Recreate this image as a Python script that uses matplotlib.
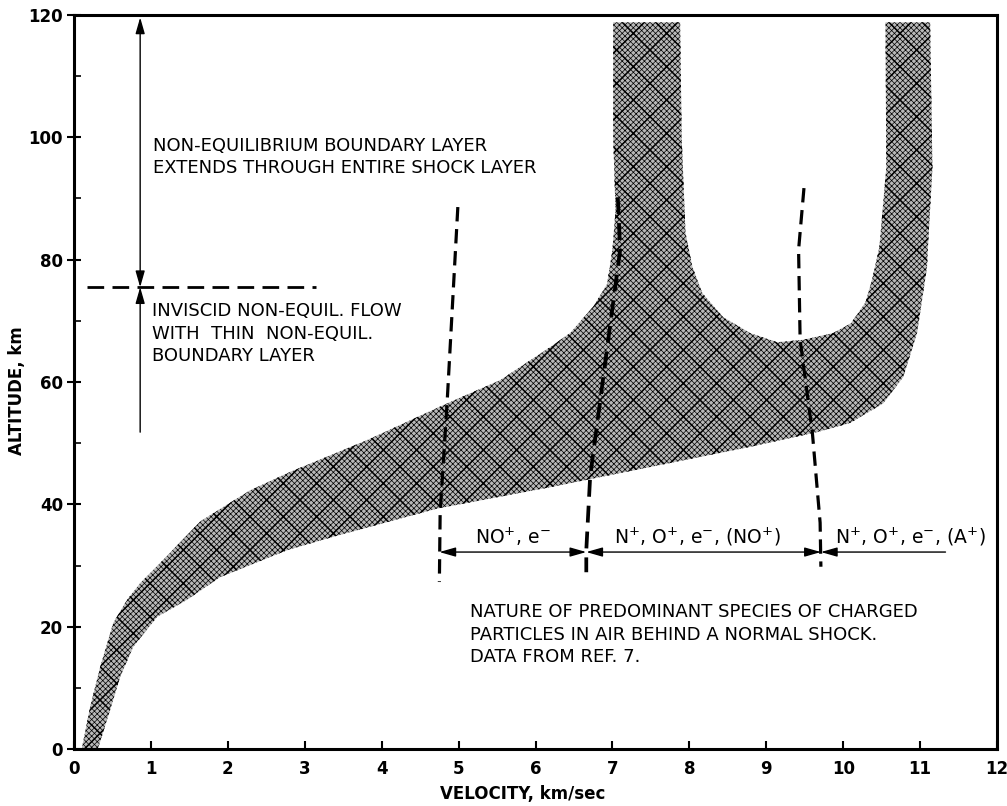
import matplotlib
matplotlib.use("Agg")
import matplotlib.pyplot as plt

# band of the chart (velocity km/s, altitude km)
# upper / left edge, from the ground up to the top of the left branch
upper_x = [0.10, 0.21, 0.34, 0.51, 0.69, 0.86, 1.12, 1.64, 2.29, 2.81, 3.81, 4.85, 5.54,
           6.19, 6.45, 6.75, 6.93, 7.00, 7.04, 7.01, 7.01]
upper_y = [0.0, 6.9, 13.4, 20.6, 24.4, 27.1, 30.4, 37.2, 42.3, 45.3, 50.5, 56.5, 60.3,
           65.7, 68.0, 72.3, 76.0, 81.6, 88.0, 100.0, 118.8]
# inner edge: down the left branch, round the U, up the right branch
inner_x = [7.88, 7.90, 7.95, 8.04, 8.17, 8.44, 8.79, 9.14, 9.48, 9.87, 10.10, 10.29,
           10.38, 10.47, 10.56, 10.55]
inner_y = [118.8, 100.0, 84.4, 78.8, 74.5, 70.6, 68.0, 66.5, 66.9, 68.0, 69.6, 73.0,
           77.0, 82.0, 95.0, 118.8]
# outer edge of right branch, then lower edge back to the ground
lower_x = [11.13, 11.16, 11.10, 11.09, 10.96, 10.78, 10.52, 10.09, 9.66, 8.79, 7.49, 6.19,
           4.72, 3.37, 2.77, 1.90, 1.47, 1.08, 0.77, 0.60, 0.47, 0.31]
lower_y = [118.8, 95.0, 81.6, 78.8, 68.0, 60.8, 56.5, 53.3, 51.8, 49.4, 46.1, 42.8,
           39.3, 34.7, 32.5, 28.1, 24.4, 21.6, 16.7, 11.8, 6.4, 0.0]

# dashed boundaries between species regions
line1_x = [4.99, 4.85, 4.76, 4.75]
line1_y = [88.6, 56.5, 38.6, 27.3]
line2_x = [7.07, 7.10, 6.71, 6.66, 6.66]
line2_y = [90.2, 81.6, 44.5, 32.5, 28.9]
line3_x = [9.49, 9.42, 9.44, 9.60, 9.70, 9.71]
line3_y = [91.7, 81.6, 66.9, 51.6, 37.0, 29.8]

species_y = 32.2
species_stops = [4.75, 6.66, 9.71, 11.33]
species_labels = [r"NO$^{+}$, e$^{-}$", r"N$^{+}$, O$^{+}$, e$^{-}$, (NO$^{+}$)",
                  r"N$^{+}$, O$^{+}$, e$^{-}$, (A$^{+}$)"]
species_label_x = [5.70, 8.10, 10.88]

viscous_split = 75.5
arrow_x = 0.86

x_ticks = list(range(0, 13))
y_ticks = list(range(0, 121, 20))

fig = plt.figure(figsize=(10.07, 8.06), dpi=100)
ax = fig.add_axes([0.0735, 0.0707, 0.9166, 0.9107])

band_x = upper_x + inner_x + lower_x
band_y = upper_y + inner_y + lower_y

# fine dotted cross-hatch on grey, with a coarse diagonal lattice on top
plt.rcParams["hatch.linewidth"] = 0.5
fine = ax.fill(band_x, band_y, facecolor="#b8b8b8", edgecolor="black", hatch="xxxxxx",
               linewidth=0, zorder=1)[0]
plt.rcParams["hatch.linewidth"] = 1.1
coarse = ax.fill(band_x, band_y, facecolor="none", edgecolor="black", hatch="x",
                 linewidth=0, zorder=1.1)[0]
if hasattr(fine, "set_hatch_linewidth"):
    fine.set_hatch_linewidth(0.5)
    coarse.set_hatch_linewidth(1.1)

dash = (0, (4.5, 2.4))
ax.plot(line1_x, line1_y, color="black", linewidth=2.3, linestyle=dash, zorder=3)
ax.plot(line2_x, line2_y, color="black", linewidth=2.7, linestyle=dash, zorder=3)
ax.plot(line3_x, line3_y, color="black", linewidth=2.3, linestyle=dash, zorder=3)

# horizontal arrows naming the species in each velocity range
head = dict(color="black", linewidth=1.0, shrinkA=0, shrinkB=0, mutation_scale=14)
for i in range(3):
    if i < 2:
        style = "<|-|>,head_length=0.7,head_width=0.2"
    else:
        style = "<|-,head_length=0.7,head_width=0.2"
    ax.annotate("", xy=(species_stops[i + 1], species_y), xytext=(species_stops[i], species_y),
                arrowprops=dict(arrowstyle=style, **head), zorder=4)
    ax.text(species_label_x[i], species_y + 0.7, species_labels[i], ha="center", va="bottom",
            fontsize=13.5)

# viscous / inviscid split at the left
ax.plot([0.17, 3.15], [viscous_split, viscous_split], color="black", linewidth=2.0,
        linestyle=(0, (6, 3)), zorder=3)
ax.annotate("", xy=(arrow_x, 119.6), xytext=(arrow_x, viscous_split),
            arrowprops=dict(arrowstyle="<|-|>,head_length=0.7,head_width=0.2", **head))
ax.annotate("", xy=(arrow_x, viscous_split), xytext=(arrow_x, 51.8),
            arrowprops=dict(arrowstyle="-|>,head_length=0.7,head_width=0.2", **head))

ax.text(1.03, 96.8, "NON-EQUILIBRIUM BOUNDARY LAYER\nEXTENDS THROUGH ENTIRE SHOCK LAYER",
        ha="left", va="center", fontsize=13, linespacing=1.3)
ax.text(1.01, 67.9, "INVISCID NON-EQUIL. FLOW\nWITH  THIN  NON-EQUIL.\nBOUNDARY LAYER",
        ha="left", va="center", fontsize=13, linespacing=1.3)
ax.text(5.15, 18.7, "NATURE OF PREDOMINANT SPECIES OF CHARGED\n"
        "PARTICLES IN AIR BEHIND A NORMAL SHOCK.\nDATA FROM REF. 7.",
        ha="left", va="center", fontsize=13, linespacing=1.3)

ax.set_xlim(0, 12)
ax.set_ylim(0, 120)
ax.set_xticks(x_ticks)
ax.set_yticks(y_ticks)
ax.set_yticks(list(range(10, 120, 20)), minor=True)
ax.tick_params(axis="x", direction="in", length=6, width=1.5, pad=8, labelsize=12)
ax.tick_params(axis="y", which="major", direction="inout", length=10, width=1.5, pad=3,
               labelsize=12)
ax.tick_params(axis="y", which="minor", direction="in", length=5, width=1.2)
for lab in ax.get_xticklabels() + ax.get_yticklabels():
    lab.set_fontweight("bold")
for s in ax.spines.values():
    s.set_linewidth(2.2)

ax.set_xlabel("VELOCITY, km/sec", fontsize=12, fontweight="bold")
ax.set_ylabel("ALTITUDE, km", fontsize=12, fontweight="bold")
ax.xaxis.set_label_coords(0.486, -0.049)
ax.yaxis.set_label_coords(-0.052, 0.488)

fig.savefig("out.png", dpi=100)
